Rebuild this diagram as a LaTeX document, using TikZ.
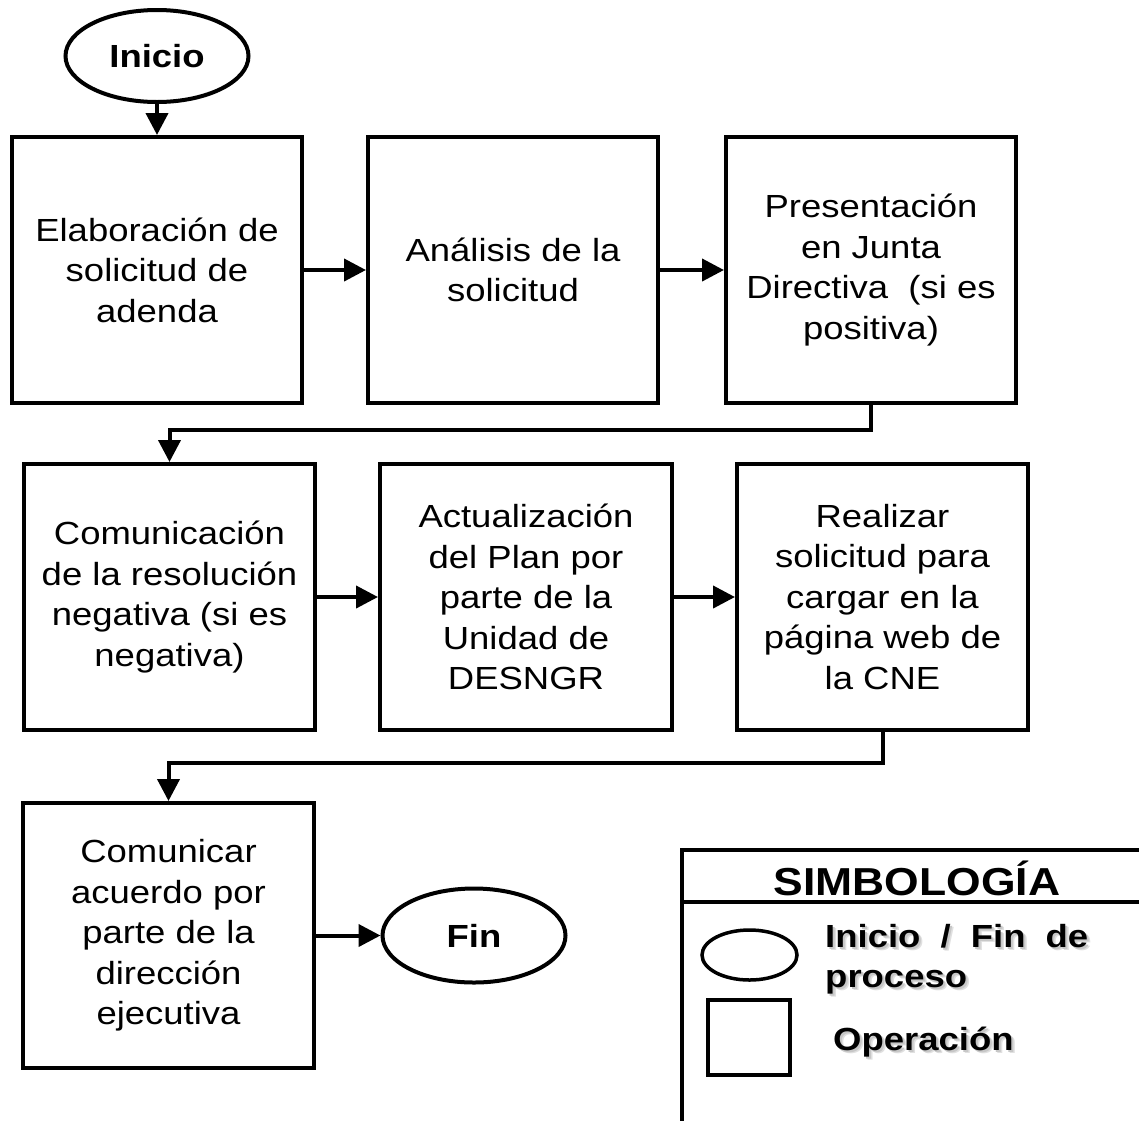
\documentclass[tikz,border=0pt]{standalone}
\usepackage{fontspec}
\setmainfont{Liberation Sans}[FakeStretch=1.14]
\usetikzlibrary{shapes.geometric,arrows.meta}
\newcommand\flboxfont{\fontsize{32pt}{40.5pt}\selectfont}
\newcommand\flbold{\fontsize{32pt}{40.5pt}\selectfont\bfseries}
\newcommand\flshadow[1]{\makebox[0pt][l]{\hspace{3.5pt}\raisebox{-3.5pt}[0pt][0pt]{\textcolor{black!12}{#1}}}\makebox[0pt][l]{\hspace{2pt}\raisebox{-2pt}[0pt][0pt]{\textcolor{black!22}{#1}}}#1}
\tikzset{
  opbox/.style={draw, line width=4pt, rectangle, minimum width=290pt, minimum height=266pt,
    align=center, inner sep=0pt, font=\flboxfont},
  term/.style={draw, ellipse, line width=4pt, minimum width=183pt, minimum height=92pt,
    inner sep=0pt, font=\flbold},
  arr/.style={line width=4pt, -{Triangle[length=22pt,width=22pt]}},
  legline/.style={line width=3.5pt},
  legtext/.style={font=\flbold, anchor=base west, inner sep=0pt},
}
\begin{document}
\begin{tikzpicture}[x=1pt,y=-1pt]
\useasboundingbox (0,0) rectangle (1139,1120);
% row 1
\node[term] (ini) at (157,56) {Inicio};
\node[opbox] (b1) at (157,270) {Elaboración de\\solicitud de\\adenda};
\node[opbox] (b2) at (513,270) {Análisis de la\\solicitud};
\node[opbox] (b3) at (871,270) {Presentación\\en Junta\\Directiva\ \ (si es\\positiva)};
% row 2
\node[opbox, minimum width=291pt] (b4) at (169.5,597) {Comunicación\\de la resolución\\negativa (si es\\negativa)};
\node[opbox, minimum width=292pt] (b5) at (526,597) {Actualización\\del Plan por\\parte de la\\Unidad de\\DESNGR};
\node[opbox, minimum width=291pt] (b6) at (882.5,597) {Realizar\\solicitud para\\cargar en la\\página web de\\la CNE};
% row 3
\node[opbox, minimum width=291pt, minimum height=265pt] (b7) at (168.5,935.5) {Comunicar\\acuerdo por\\parte de la\\dirección\\ejecutiva};
\node[term, minimum height=94pt] (fin) at (474,935.5) {Fin};
% connectors
\draw[arr] (ini.south) -- (b1.north);
\draw[arr] (b1.east) -- (b2.west);
\draw[arr] (b2.east) -- (b3.west);
\draw[arr] (b3.south) -- ++(0,25) -| (b4.north);
\draw[arr] (b4.east) -- (b5.west);
\draw[arr] (b5.east) -- (b6.west);
\draw[arr] (b6.south) -- ++(0,31) -| (b7.north);
\draw[arr] (b7.east) -- (fin.west);
% legend
\draw[legline] (682,1125) -- (682,850) -- (1145,850);
\draw[legline] (682,902) -- (1145,902);
\node[font=\fontsize{39pt}{45pt}\selectfont\bfseries, inner sep=0pt] (legt) at (917,878) {SIMBOLOGÍA};
\node[draw, ellipse, legline, minimum width=95pt, minimum height=50pt, inner sep=0pt] (lege) at (749.5,955) {};
\node[draw, rectangle, legline, minimum width=82pt, minimum height=75pt, inner sep=0pt] (legr) at (749,1037.5) {};
\node[legtext] (lt1) at (825,947) {\flshadow{\makebox[263pt][s]{Inicio / Fin de}}};
\node[legtext] (lt2) at (825,987) {\flshadow{proceso}};
\node[legtext] (lt3) at (833,1050) {\flshadow{Operación}};
\end{tikzpicture}
\end{document}
